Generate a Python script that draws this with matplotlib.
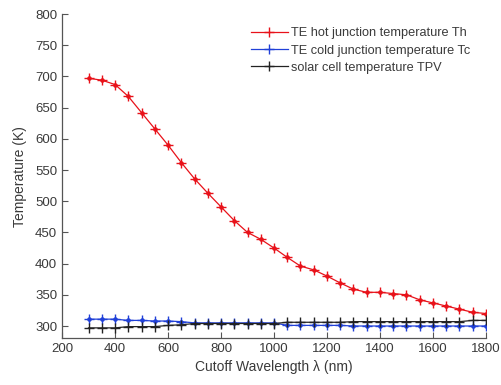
import matplotlib
matplotlib.use('Agg')
import matplotlib.pyplot as plt
import numpy as np

plt.rcParams['font.family'] = ['Liberation Sans', 'DejaVu Sans']

# cutoff wavelength (nm), one sample every 50 nm
wavelength = list(range(300, 1801, 50))

# TE hot junction temperature Th (K)
t_hot = [697, 694, 687, 668, 642, 616, 590, 562, 536, 513,
         491, 469, 450, 439, 425, 410, 396, 390, 380, 369,
         359, 354, 354, 352, 350, 342, 337, 332, 327, 322, 320]

# TE cold junction temperature Tc (K)
t_cold = [311, 311, 311, 309, 309, 308, 308, 307, 305, 305,
          305, 305, 305, 305, 305, 301, 301, 301, 301, 301,
          300, 300, 300, 300, 300, 300, 300, 300, 300, 300, 300]

# solar cell temperature TPV (K)
t_pv = [297, 297, 297, 299, 299, 299, 301, 302, 304, 304,
        304, 304, 304, 304, 304, 306, 306, 306, 306, 306,
        307, 307, 307, 307, 307, 307, 307, 307, 307, 309, 309]

labels = ['TE hot junction temperature Th',
          'TE cold junction temperature Tc',
          'solar cell temperature TPV']

txt = '#3a3a3a'

fig = plt.figure(figsize=(5.01, 3.85), dpi=100)
ax = fig.add_axes([0.1238, 0.1208, 0.8462, 0.8428])

ax.plot(wavelength, t_hot, color='#e8121a', lw=0.9, marker='+', ms=7.5, mew=1.0,
        label=labels[0])
ax.plot(wavelength, t_hot, color='#e8121a', lw=0, marker='o', ms=2.3)
ax.plot(wavelength, t_cold, color='#2040d8', lw=0.9, marker='+', ms=7.5, mew=1.0,
        label=labels[1])
ax.plot(wavelength, t_cold, color='#2040d8', lw=0, marker='o', ms=2.3)
ax.plot(wavelength, t_pv, color='#222222', lw=0.9, marker='+', ms=7.5, mew=1.0,
        label=labels[2])

ax.set_xlim(200, 1800)
ax.set_ylim(280, 800)
ax.set_xticks(np.arange(200, 1801, 200))
ax.set_yticks(np.arange(300, 801, 50))

ax.spines['top'].set_visible(False)
ax.spines['right'].set_visible(False)
for s in ['left', 'bottom']:
    ax.spines[s].set_color('#555555')
    ax.spines[s].set_linewidth(0.9)
ax.tick_params(direction='in', length=4, width=0.8, color='#555555',
               labelsize=9.5, labelcolor=txt)

ax.set_xlabel('Cutoff Wavelength λ (nm)', fontsize=10, color=txt, labelpad=3)
ax.set_ylabel('Temperature (K)', fontsize=10, color=txt, labelpad=6)

ax.legend(loc='upper right', bbox_to_anchor=(0.99, 0.995), frameon=False,
          fontsize=9.2, handlelength=2.9, labelspacing=0.42, handletextpad=0.25,
          labelcolor=txt)

fig.savefig('out.png', dpi=100)
